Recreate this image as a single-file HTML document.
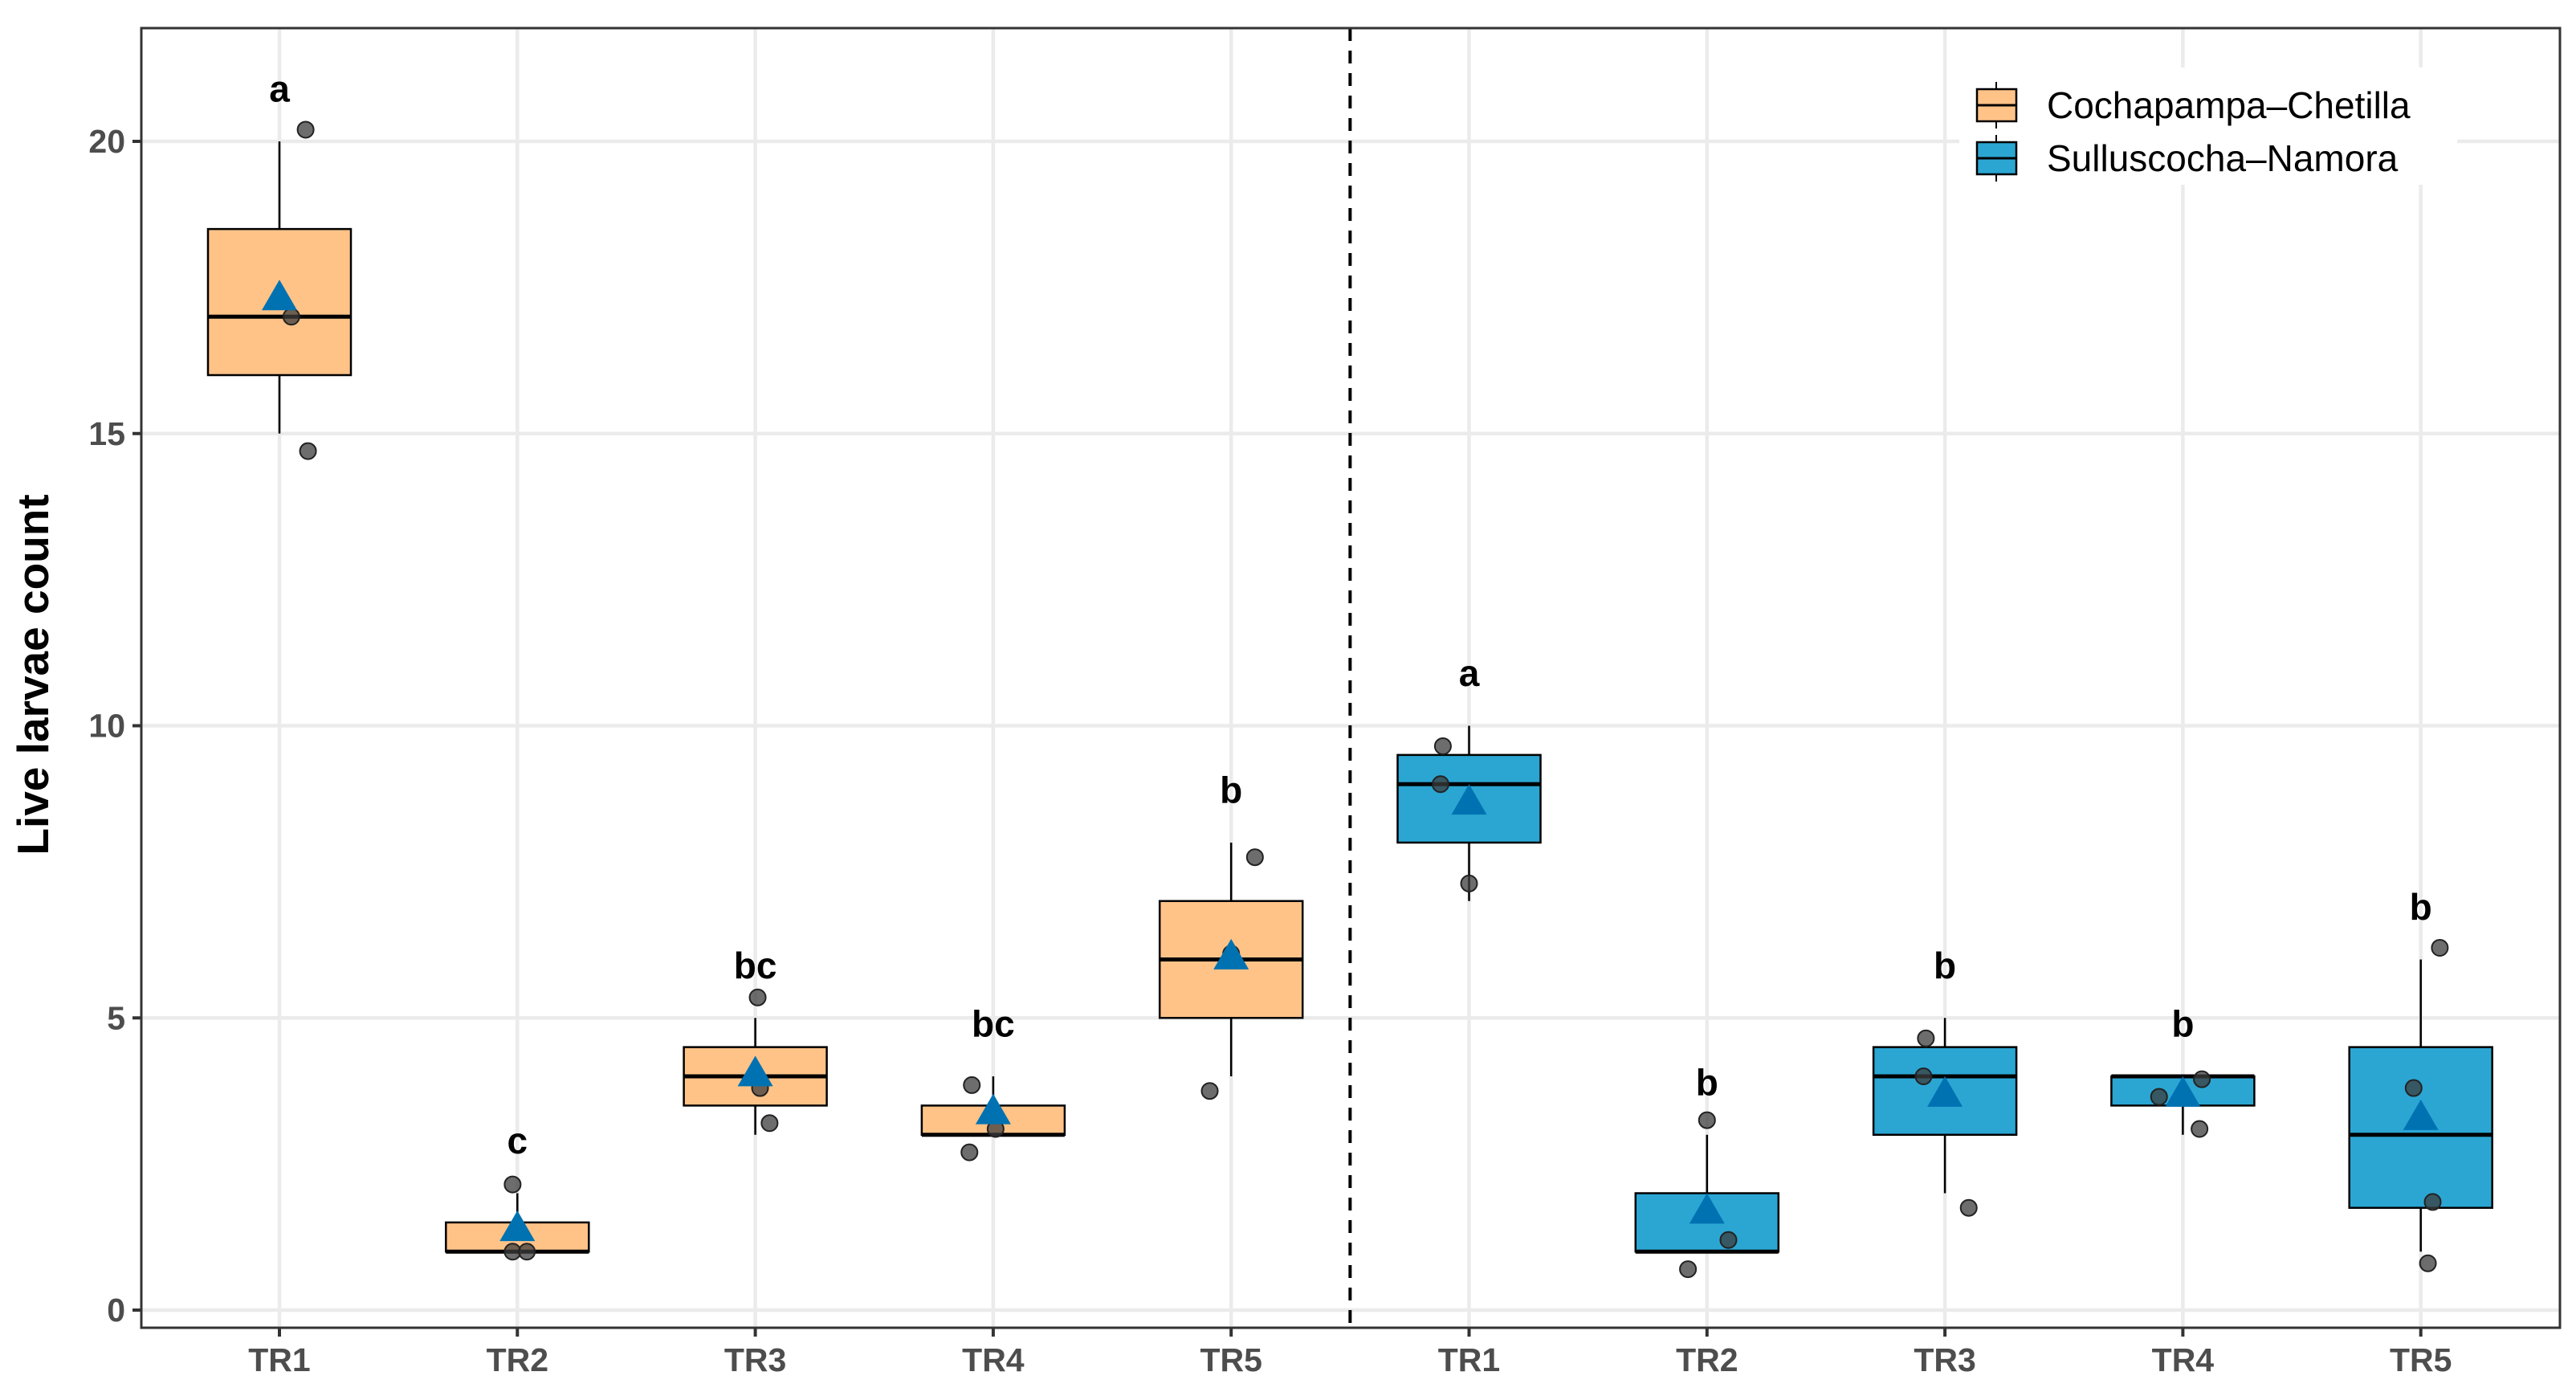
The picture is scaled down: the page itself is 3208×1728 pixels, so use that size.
<!DOCTYPE html>
<html><head><meta charset="utf-8"><style>
body{margin:0;background:#fff}
svg{display:block}
text{font-family:"Liberation Sans",Arial,sans-serif}
</style></head><body>
<svg id="chart" width="3208" height="1728" viewBox="0 0 3208 1728" xmlns="http://www.w3.org/2000/svg"></svg>
<script>
const categories = ["TR1","TR2","TR3","TR4","TR5","TR1","TR2","TR3","TR4","TR5"];
const groups = ["C","C","C","C","C","S","S","S","S","S"];
const whiskerLow = [15,1,3,3,4,7,1,2,3,1];
const q1 = [16,1,3.5,3,5,8,1,3,3.5,1.75];
const median = [17,1,4,3,6,9,1,4,4,3];
const q3 = [18.5,1.5,4.5,3.5,7,9.5,2,4.5,4,4.5];
const whiskerHigh = [20,2,5,4,8,10,3,5,4,6];
const means = [17.33,1.4,4.05,3.4,6.05,8.7,1.7,3.7,3.7,3.3];
const letters = ["a","c","bc","bc","b","a","b","b","b","b"];
const letterY = [20.9,2.9,5.9,4.9,8.9,10.9,3.9,5.9,4.9,6.9];
const pointVals = [[20.2,17,14.7],[2.15,1.0,1.0],[5.35,3.8,3.2],[3.85,3.1,2.7],[7.75,6.1,3.75],[9.65,9.0,7.3],[3.25,1.2,0.7],[4.65,4.0,1.75],[3.95,3.65,3.1],[6.2,3.8,1.85,0.8]];
const pointJitter = [[0.11,0.05,0.12],[-0.02,-0.02,0.04],[0.01,0.02,0.06],[-0.09,0.01,-0.1],[0.1,0.0,-0.09],[-0.11,-0.12,0.0],[0.0,0.09,-0.08],[-0.08,-0.09,0.1],[0.08,-0.1,0.07],[0.08,-0.03,0.05,0.03]];
const yTicks = [0,5,10,15,20];
const legendLabels = ["Cochapampa\u2013Chetilla","Sulluscocha\u2013Namora"];

const L=176,R=3188,T=35,B=1653;
const yScale=v=>1631-v*72.75;
const xScale=i=>348+i*296.3;
const fill={C:"#FFC388",S:"#2BA6D3"};
const svg=document.getElementById('chart');
const NS="http://www.w3.org/2000/svg";
function mk(tag,attrs,parent){const e=document.createElementNS(NS,tag);for(const k in attrs)e.setAttribute(k,attrs[k]);(parent||svg).appendChild(e);return e;}

const grid=mk('g',{});


yTicks.forEach(v=>{mk('line',{x1:L,x2:R,y1:yScale(v),y2:yScale(v),stroke:'#ebebeb','stroke-width':4.5},grid);});
categories.forEach((c,i)=>{mk('line',{x1:xScale(i),x2:xScale(i),y1:T,y2:B,stroke:'#ebebeb','stroke-width':4.5},grid);});

const dv=mk('line',{x1:(xScale(4)+xScale(5))/2,x2:(xScale(4)+xScale(5))/2,y1:T,y2:B,stroke:'#000','stroke-width':4,'stroke-dasharray':'16,12'});



const bw=178;
categories.forEach((c,i)=>{
  const g=mk('g',{});
  
  
  const x=xScale(i);
  mk('line',{x1:x,x2:x,y1:yScale(whiskerHigh[i]),y2:yScale(q3[i]),stroke:'#000','stroke-width':2.5},g);
  mk('line',{x1:x,x2:x,y1:yScale(q1[i]),y2:yScale(whiskerLow[i]),stroke:'#000','stroke-width':2.5},g);
  mk('rect',{x:x-bw/2,y:yScale(q3[i]),width:bw,height:Math.max(yScale(q1[i])-yScale(q3[i]),1),fill:fill[groups[i]],stroke:'#000','stroke-width':2.5},g);
  mk('line',{x1:x-bw/2,x2:x+bw/2,y1:yScale(median[i]),y2:yScale(median[i]),stroke:'#000','stroke-width':5},g);
  pointVals[i].forEach((v,j)=>{
    const p=mk('circle',{cx:x+pointJitter[i][j]*296.3,cy:yScale(v),r:10,fill:'rgba(60,60,60,0.75)',stroke:'#222','stroke-width':2},g);
    
    
  });
  const my=yScale(means[i]);
  const tri=mk('polygon',{points:`${x},${my-22} ${x-22},${my+16} ${x+22},${my+16}`,fill:'#0072B2'},g);
  
  
  const lt=mk('text',{x:x,y:yScale(letterY[i])+16,'text-anchor':'middle','font-size':46,'font-weight':'bold',fill:'#000'},g);
  lt.textContent=letters[i];
  
  
});

const pb=mk('rect',{x:L,y:T,width:R-L,height:B-T,fill:'none',stroke:'#333','stroke-width':3});



const ya=mk('g',{});


yTicks.forEach(v=>{
  mk('line',{x1:L-11,x2:L,y1:yScale(v),y2:yScale(v),stroke:'#333','stroke-width':4},ya);
  const t=mk('text',{x:L-20,y:yScale(v)+14,'text-anchor':'end','font-size':41,'font-weight':'bold',fill:'#4d4d4d'},ya);
  t.textContent=v;
});
const yt=mk('text',{x:60,y:840,'text-anchor':'middle','font-size':55,'font-weight':'bold',fill:'#000',transform:'rotate(-90 60 840)'});
yt.textContent='Live larvae count';



const xa=mk('g',{});


categories.forEach((c,i)=>{
  mk('line',{x1:xScale(i),x2:xScale(i),y1:B,y2:B+11,stroke:'#333','stroke-width':4},xa);
  const t=mk('text',{x:xScale(i),y:B+54,'text-anchor':'middle','font-size':41,'font-weight':'bold',fill:'#4d4d4d'},xa);
  t.textContent=c;
});

const lg=mk('g',{});


mk('rect',{x:2440,y:84,width:620,height:146,fill:'#fff'},lg);
legendLabels.forEach((lab,k)=>{
  const e=mk('g',{},lg);
  
  
  const cy=131+k*66;
  const col=k===0?fill.C:fill.S;
  mk('line',{x1:2486,x2:2486,y1:cy-29,y2:cy+29,stroke:'#000','stroke-width':2},e);
  mk('rect',{x:2462,y:cy-20,width:49,height:40,fill:col,stroke:'#000','stroke-width':2.5},e);
  mk('line',{x1:2462,x2:2511,y1:cy,y2:cy,stroke:'#000','stroke-width':3},e);
  const t=mk('text',{x:2549,y:cy+16,'font-size':46,fill:'#000'},e);
  t.textContent=lab;
});
</script>
</body></html>
